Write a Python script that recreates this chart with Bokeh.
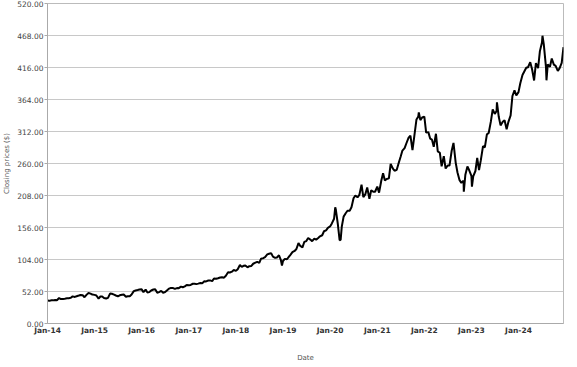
import pandas as pd
from bokeh.plotting import figure
from bokeh.models import FixedTicker, NumeralTickFormatter, DatetimeTickFormatter, Range1d
from bokeh.embed import file_html
from bokeh.resources import INLINE

# Semi-monthly observation dates (1st and 15th of each month)
base_dates = list(pd.date_range("2014-01-01", "2024-12-15", freq="SMS"))

closes_2014 = [37.2, 36.8, 37.8, 37.6, 38.3, 37.7, 41.4, 39.8, 40.0, 40.4, 40.9, 41.2,
               41.7, 44.1, 43.2, 44.3, 45.4, 46.4, 45.9, 42.7, 46.9, 49.6, 48.6, 47.0]
closes_2015 = [46.5, 45.5, 40.4, 43.9, 43.8, 41.4, 40.7, 41.7, 48.6, 48.3, 46.9, 45.5,
               44.2, 45.8, 46.7, 47.0, 43.5, 44.3, 44.3, 47.0, 52.6, 53.7, 54.4, 55.2]
closes_2016 = [55.5, 50.9, 55.1, 50.5, 51.0, 53.6, 55.2, 55.6, 49.9, 51.0, 53.0, 50.0,
               51.2, 53.7, 56.7, 57.9, 57.5, 56.2, 57.6, 57.4, 59.9, 58.9, 60.3, 62.6]
closes_2017 = [62.1, 62.7, 64.6, 64.6, 64.0, 64.8, 65.9, 65.5, 68.5, 68.4, 69.8, 70.0,
               68.9, 73.2, 72.7, 73.6, 74.8, 75.3, 74.5, 77.6, 83.2, 82.9, 84.2, 86.9]
closes_2018 = [85.5, 88.3, 95.0, 92.0, 93.8, 94.2, 91.3, 93.1, 93.5, 97.1, 98.8, 100.1,
               98.6, 105.4, 106.1, 107.7, 112.3, 113.4, 114.4, 108.7, 106.8, 107.3, 110.9, 103.5]
closes_2019 = [101.6, 105.0, 104.4, 108.2, 112.0, 115.9, 117.9, 121.0, 130.6, 126.0, 123.7, 132.5,
               134.0, 138.9, 136.3, 133.7, 137.9, 136.3, 139.0, 141.6, 143.4, 149.9, 151.4, 155.5]
closes_2020 = [157.7, 162.6, 170.2, 184.7, 162.0, 135.4, 157.7, 173.7, 179.2, 183.2, 183.3, 188.9,
               203.5, 208.0, 205.0, 208.9, 225.5, 205.4, 210.3, 220.9, 202.5, 216.5, 214.1, 214.1]
closes_2021 = [222.4, 212.7, 231.9, 244.2, 232.4, 234.8, 235.8, 259.5, 252.2, 248.2, 249.7, 259.9,
               270.9, 281.0, 284.9, 292.9, 301.9, 305.2, 281.9, 304.2, 331.6, 336.1, 330.6, 334.7]
closes_2022 = [336.3, 310.2, 311.0, 300.5, 298.8, 287.2, 308.3, 279.8, 277.5, 255.4, 271.9, 251.8,
               256.8, 256.7, 280.7, 293.5, 261.5, 245.4, 232.9, 228.6, 232.1, 241.7, 255.1, 249.0]
closes_2023 = [239.8, 239.2, 247.8, 269.3, 249.4, 265.4, 288.3, 286.1, 307.3, 309.5, 328.4, 348.1,
               340.5, 345.2, 335.9, 321.9, 327.8, 330.2, 315.8, 327.7, 338.1, 369.7, 378.9, 370.7]
closes_2024 = [376.0, 390.3, 403.8, 409.5, 415.5, 416.4, 424.6, 413.6, 394.9, 423.1, 415.1, 442.6,
               456.7, 453.9, 417.1, 421.0, 417.1, 430.6, 420.7, 418.7, 410.4, 415.0, 423.5, 449.0]

# Extra observations at notable turning points
extra_dates = ["2018-12-24", "2020-02-10", "2020-03-23", "2021-11-19", "2022-11-03",
               "2023-01-05", "2023-07-18", "2024-07-05", "2024-08-05"]
extra_closes = [94.1, 188.7, 135.9, 343.1, 214.3, 222.3, 359.5, 467.6, 395.2]

y_ticks = [0, 52, 104, 156, 208, 260, 312, 364, 416, 468, 520]
x_tick_years = [2014, 2015, 2016, 2017, 2018, 2019, 2020, 2021, 2022, 2023, 2024]

base_closes = (closes_2014 + closes_2015 + closes_2016 + closes_2017 + closes_2018 + closes_2019
               + closes_2020 + closes_2021 + closes_2022 + closes_2023 + closes_2024)

df = pd.DataFrame({"date": base_dates + list(pd.to_datetime(extra_dates)),
                   "close": base_closes + extra_closes}).sort_values("date")

x_start = pd.Timestamp("2014-01-01")
x_end = pd.Timestamp("2024-12-15")

p = figure(width=565, height=364, x_axis_type="datetime", output_backend="svg",
           toolbar_location=None,
           x_range=Range1d(x_start, x_end), y_range=Range1d(0, 520),
           min_border_left=44, min_border_right=2, min_border_top=3, min_border_bottom=40)

p.line(df["date"], df["close"], line_color="black", line_width=2)

p.outline_line_color="#bbbbbb"
p.outline_line_width=1
p.background_fill_color="white"
p.border_fill_color="white"

p.xgrid.grid_line_color=None
p.ygrid.grid_line_color="#c8c8c8"
p.ygrid.grid_line_width=1

p.yaxis.ticker = FixedTicker(ticks=y_ticks)
p.yaxis.formatter = NumeralTickFormatter(format="0.00")
p.yaxis.axis_label = "Closing prices ($)"
p.yaxis.axis_label_text_font_size = "7px"
p.yaxis.axis_label_text_font_style = "normal"
p.yaxis.axis_label_text_color = "#555555"
p.yaxis.axis_label_standoff = 3
p.yaxis.major_label_text_font_size = "7.5px"
p.yaxis.major_label_text_color = "#444444"
p.yaxis.major_label_standoff = 1
p.yaxis.major_tick_out = 3
p.yaxis.major_tick_in = 0
p.yaxis.minor_tick_out = 0
p.yaxis.minor_tick_in = 0
p.yaxis.axis_line_color = "#aaaaaa"
p.yaxis.major_tick_line_color = "#aaaaaa"

x_ticks = [pd.Timestamp(f"{y}-01-01").value // 10**6 for y in x_tick_years]
p.xaxis.ticker = FixedTicker(ticks=x_ticks)
p.xaxis.formatter = DatetimeTickFormatter(years="%b-%y", months="%b-%y", days="%b-%y")
p.xaxis.axis_label = "Date"
p.xaxis.axis_label_text_font_size = "7px"
p.xaxis.axis_label_text_font_style = "normal"
p.xaxis.axis_label_text_color = "#555555"
p.xaxis.axis_label_standoff = 16
p.xaxis.major_label_text_font_size = "7.5px"
p.xaxis.major_label_text_font_style = "bold"
p.xaxis.major_label_text_color = "#333333"
p.xaxis.major_label_standoff = 2
p.xaxis.major_tick_out = 0
p.xaxis.major_tick_in = 0
p.xaxis.minor_tick_out = 0
p.xaxis.minor_tick_in = 0
p.xaxis.axis_line_color = "#aaaaaa"

for ax in (p.xaxis, p.yaxis):
    ax.major_label_text_font = "DejaVu Sans"
    ax.axis_label_text_font = "DejaVu Sans"

open("out.html", "w").write(file_html(p, INLINE))
